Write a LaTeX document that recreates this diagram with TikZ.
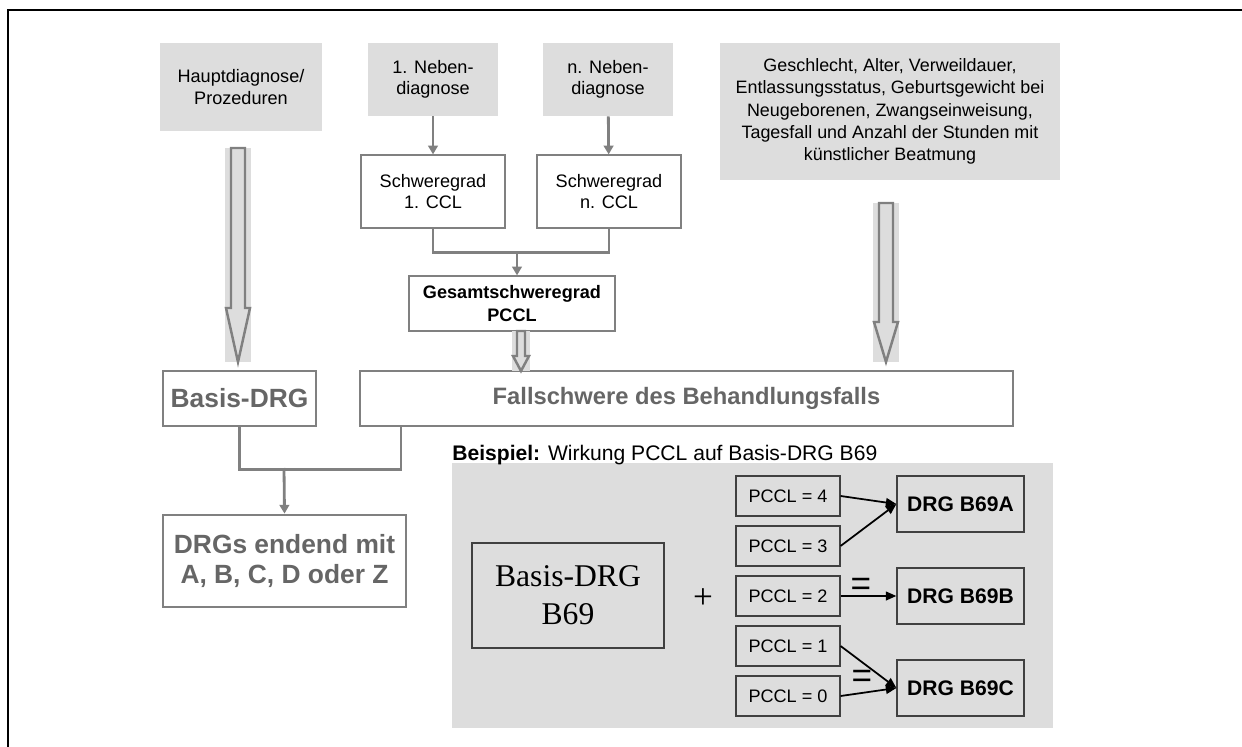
\documentclass[tikz,border=0pt]{standalone}
\usepackage{fontspec}
\setmainfont{Liberation Sans}
\newfontfamily\timesfont{Liberation Serif}
\usetikzlibrary{arrows.meta}

\definecolor{hellgrau}{HTML}{DDDDDD}
\definecolor{mittelgrau}{HTML}{808080}
\definecolor{textgrau}{HTML}{666666}

\newcommand{\grundschrift}{\fontsize{10.3}{12}\selectfont}
% hohler Blockpfeil: x, y oben, y Spitze, halbe Schaftbreite, halbe Kopfbreite, y Kopfansatz
\newcommand{\blockpfeil}[6]{%
	\fill[hellgrau] (#1-#5-1,#2) rectangle (#1+#5+1,#3);
	\draw[mittelgrau, line width=1.4pt] (#1-#4,#2) -- (#1+#4,#2) -- (#1+#4,#6) -- (#1+#5,#6)
		-- (#1,#3) -- (#1-#5,#6) -- (#1-#4,#6) -- cycle;
}

\begin{document}
\begin{tikzpicture}
	[x=0.02cm, y=-0.02cm,
	every node/.style={align=center, font=\grundschrift},
	eingabe/.style={fill=hellgrau, inner sep=0pt},
	grad/.style={draw=mittelgrau, line width=0.7pt, fill=white, inner sep=0pt},
	ergebnis/.style={draw=mittelgrau, line width=1.6pt, fill=white, text=textgrau,
		font=\bfseries\fontsize{15}{17.5}\selectfont, inner sep=0pt},
	linie/.style={draw=mittelgrau, line width=1.6pt},
	pfeil/.style={linie, -{Triangle[width=5.5pt,length=5pt]}},
	beispielbox/.style={draw=black!75, line width=0.7pt, inner sep=0pt},
	zuweisung/.style={black, line width=1pt, -{Triangle[width=5pt,length=6pt]}},
	zeichen/.style={font=\timesfont\fontsize{20}{20}\selectfont, inner sep=0pt},
	gleich/.style={font=\fontsize{20}{20}\selectfont, inner sep=0pt}]
	\useasboundingbox (0,0) rectangle (1242,747);
	\draw[line width=1.2pt] (8,747) -- (8,10) -- (1242,10);

	% Eingangsgroessen
	\node[eingabe, minimum width=3.24cm, minimum height=1.76cm] (haupt) at (241,87) {Hauptdiagnose/\\Prozeduren};
	\node[eingabe, minimum width=2.6cm, minimum height=1.46cm] (neben1) at (433,79.5) {1. Neben-\\diagnose};
	\node[eingabe, minimum width=2.6cm, minimum height=1.46cm] (nebenn) at (608,79.5) {n. Neben-\\diagnose};
	\node[eingabe, minimum width=6.8cm, minimum height=2.74cm, font=\fontsize{10.2}{12.6}\selectfont] (merkmale) at (890,111.5)
		{Geschlecht, Alter, Verweildauer,\\Entlassungsstatus, Geburtsgewicht bei\\Neugeborenen, Zwangseinweisung,\\Tagesfall und Anzahl der Stunden mit\\künstlicher Beatmung};

	\node[grad, minimum width=2.88cm, minimum height=1.46cm] (ccl1) at (433,191.5) {Schweregrad\\1. CCL};
	\node[grad, minimum width=2.88cm, minimum height=1.46cm] (ccln) at (609,191.5) {Schweregrad\\n. CCL};
	\node[grad, minimum width=4.12cm, minimum height=1.1cm, font=\bfseries\fontsize{10.3}{13.5}\selectfont] (pccl) at (512,303.5) {Gesamtschweregrad\\PCCL};

	\node[ergebnis, minimum width=3.06cm, minimum height=1.1cm] (basis) at (239.5,398.5) {Basis-DRG};
	\node[ergebnis, minimum width=13.06cm, minimum height=1.1cm, font=\bfseries\fontsize{13.5}{16}\selectfont] (fall) at (686.5,398.5) {Fallschwere des Behandlungsfalls};
	\node[ergebnis, minimum width=4.86cm, minimum height=1.84cm] (drgs) at (284.5,561) {DRGs endend mit\\A, B, C, D oder Z};

	\draw[pfeil] (neben1) -- (ccl1);
	\draw[pfeil] (nebenn) -- (ccln);
	\draw[linie] (ccl1.south) -- ++(0,24) -| (ccln.south);
	\coordinate (knoten1) at (517,252);
	\draw[pfeil] (knoten1) -- (knoten1 |- pccl.north);

	\blockpfeil{238}{148}{362}{7}{12}{308}
	\blockpfeil{886}{203}{362}{7}{12}{322}
	\blockpfeil{521}{331}{371}{4}{8}{356}

	\coordinate (fallfuss) at (401,426);
	\draw[linie] (basis.south) -- ++(0,42) -| (fallfuss);
	\coordinate (knoten2) at (284,468);
	\draw[pfeil] (knoten2) -- (drgs.north);

	% Beispiel
	\node[fill=hellgrau, minimum width=12.02cm, minimum height=5.3cm, inner sep=0pt] (beispiel) at (752.5,595.5) {};
	\node[anchor=base west, inner sep=0pt, font=\fontsize{12}{14}\selectfont] (titel) at (452,460) {\textbf{Beispiel:} Wirkung PCCL auf Basis-DRG B69};
	\node[beispielbox, minimum width=3.84cm, minimum height=2.1cm, font=\timesfont\fontsize{18}{21.6}\selectfont] (b69) at (568,595.5) {Basis-DRG\\B69};
	\node[zeichen] (plus) at (703,599) {+};
	\foreach \w/\y in {4/496,3/546,2/596,1/646,0/696}
		\node[beispielbox, minimum width=2.08cm, minimum height=0.8cm] (p\w) at (788,\y) {PCCL = \w};
	\node[beispielbox, minimum width=2.54cm, minimum height=1.12cm, font=\bfseries\fontsize{12}{14}\selectfont] (drga) at (960.5,504) {DRG B69A};
	\node[beispielbox, minimum width=2.54cm, minimum height=1.12cm, font=\bfseries\fontsize{12}{14}\selectfont] (drgb) at (960.5,596) {DRG B69B};
	\node[beispielbox, minimum width=2.54cm, minimum height=1.12cm, font=\bfseries\fontsize{12}{14}\selectfont] (drgc) at (960.5,688) {DRG B69C};

	\draw[zuweisung] (p4.east) -- (drga.west);
	\draw[zuweisung] (p3.east) -- (drga.west);
	\draw[zuweisung] (p2.east) -- (drgb.west);
	\draw[zuweisung] (p1.east) -- (drgc.west);
	\draw[zuweisung] (p0.east) -- (drgc.west);
	\node[gleich] (gleich1) at (861,587) {=};
	\node[gleich] (gleich2) at (862,679) {=};
\end{tikzpicture}
\end{document}
